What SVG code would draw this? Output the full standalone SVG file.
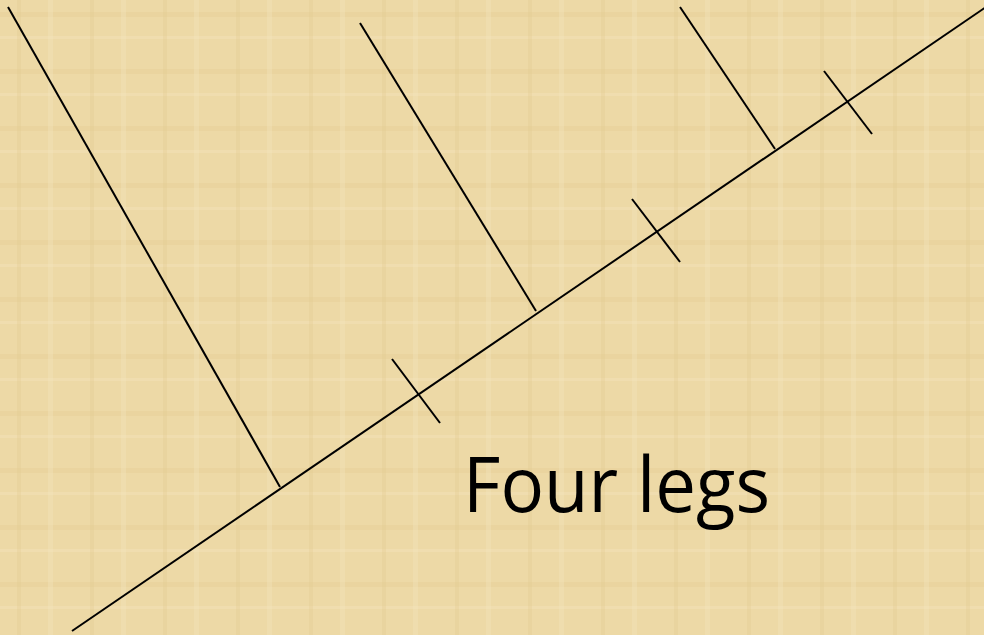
<svg xmlns="http://www.w3.org/2000/svg" width="984" height="635" viewBox="0 0 984 635">
  <style>
    .ln { stroke: #000; stroke-width: 2; fill: none; stroke-linecap: butt; }
    .lbl { font-family: "Open Sans", "Noto Sans", "Liberation Sans", sans-serif; font-size: 76px; fill: #000; }
  </style>
  <defs>
    <pattern id="papyrus" width="73" height="57" patternUnits="userSpaceOnUse">
      <rect width="73" height="57" fill="#EDD9A6"/>
      <rect x="0" y="12" width="73" height="5" fill="#E4CC93" opacity="0.35"/>
      <rect x="0" y="36" width="73" height="3" fill="#F4E4BC" opacity="0.4"/>
      <rect x="17" y="0" width="4" height="57" fill="#E3CA90" opacity="0.3"/>
      <rect x="48" y="0" width="5" height="57" fill="#F4E4BC" opacity="0.35"/>
    </pattern>
  </defs>
  <rect id="background" width="984" height="635" fill="url(#papyrus)"/>
  <g id="connectors">
    <line class="ln" x1="72" y1="631" x2="986" y2="7"/>
    <line class="ln" x1="8" y1="7" x2="280" y2="487"/>
    <line class="ln" x1="360" y1="23" x2="536" y2="311"/>
    <line class="ln" x1="680" y1="7" x2="775" y2="149"/>
    <line class="ln" x1="392" y1="359" x2="440" y2="423"/>
    <line class="ln" x1="632" y1="199" x2="680" y2="262"/>
    <line class="ln" x1="824" y1="71" x2="872" y2="134"/>
  </g>
  <g id="label-four-legs">
    <text class="lbl" x="463" y="512" textLength="307" lengthAdjust="spacingAndGlyphs">Four legs</text>
  </g>
</svg>
